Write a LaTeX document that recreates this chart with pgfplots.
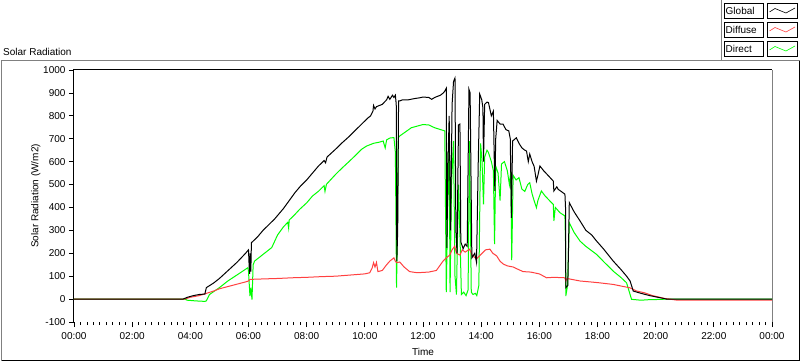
\documentclass[border=0pt]{standalone}
\usepackage{pgfplots}
\pgfplotsset{compat=1.18}
\usepackage{fontspec}
\setmainfont{Liberation Sans}
\definecolor{dred}{RGB}{255,64,64}
\definecolor{dgreen}{RGB}{0,255,0}
\definecolor{fgray}{RGB}{128,128,128}
\begin{document}
\begin{tikzpicture}[x=1pt,y=1pt,font=\fontsize{10}{12}\selectfont]
\useasboundingbox (0,0) rectangle (800,361);
% outer frame
\draw[fgray,line width=1pt] (1.5,0) -- (1.5,300) -- (800,300);
\draw[black,line width=1pt] (1.5,0.5) -- (799.5,0.5) -- (799.5,300);
\draw[fgray,line width=1pt] (721,300) -- (721,361);
% title
\node[anchor=base west,inner sep=0] at (3,305) {Solar Radiation};
% legend
\foreach \yy/\lab/\col in {350/Global/black,331/Diffuse/dred,312/Direct/dgreen}{
  \draw[black,line width=0.8pt] (724.5,\yy-7.5) rectangle (763,\yy+7.5);
  \node[anchor=west,inner sep=0] at (725.5,\yy) {\lab};
  \draw[black,line width=0.8pt] (767.5,\yy-7.5) rectangle (797,\yy+7.5);
  \draw[\col,line width=0.6pt] (769.5,\yy-1) -- (775,\yy+2.5) -- (781,\yy) -- (786,\yy-2) -- (795,\yy+3);
}
\begin{axis}[
  at={(74pt,39pt)}, anchor=south west,
  scale only axis, width=698pt, height=252pt,
  xmin=0, xmax=24, ymin=-100, ymax=1000,
  xtick={0,2,...,24},
  xticklabels={00:00,02:00,04:00,06:00,08:00,10:00,12:00,14:00,16:00,18:00,20:00,22:00,00:00},
  ytick={-100,0,...,1000},
  minor x tick num=8,
  tick align=outside,
  xtick pos=bottom, ytick pos=left,
  major tick length=5pt, minor tick length=3pt,
  tick style={black,line width=0.8pt},
  axis line style={draw=none},
  /pgf/number format/assume math mode=true,
  /pgf/number format/1000 sep={},
  tick label style={font=\fontsize{10}{12}\selectfont},
  xticklabel style={yshift=-2pt},
  xlabel={Time}, ylabel={Solar Radiation (W/m2)},
  xlabel style={font=\fontsize{10}{12}\selectfont, yshift=-2pt},
  ylabel style={font=\fontsize{10}{12}\selectfont, yshift=-4pt},
  clip=false,
]
\draw[black,line width=1pt] (rel axis cs:0,0) -- (rel axis cs:0,1) -- (rel axis cs:1,1);
\draw[fgray,line width=1pt] (rel axis cs:1,1) -- (rel axis cs:1,0);
% Direct
\addplot[dgreen,line width=1pt] coordinates {
(0,0) (3.8,0) (3.9,-5) (4.2,-8) (4.5,-10) (4.55,-8) (4.66,20) (5.0,50) (5.3,80) (5.6,105) (5.98,137) (6.0,120) (6.05,13) (6.08,50) (6.12,-2) (6.16,150) (6.21,166) (6.5,195) (6.8,225) (7.0,280) (7.2,315) (7.35,335) (7.38,310) (7.4,345) (7.6,370) (7.76,392) (8.0,420) (8.2,450) (8.4,470) (8.6,495) (8.63,470) (8.68,501) (9.0,545) (9.2,570) (9.48,603) (9.7,630) (9.9,655) (10.06,668) (10.3,680) (10.5,685) (10.63,690) (10.7,660) (10.75,695) (10.86,703) (11.0,705) (11.05,640) (11.09,50) (11.12,300) (11.15,705) (11.2,712) (11.4,730) (11.6,748) (11.8,755) (12.0,762) (12.2,760) (12.4,748) (12.6,740) (12.75,734)
(12.8,30) (12.85,400) (12.9,700) (12.93,30) (12.98,500) (13.05,690) (13.1,100) (13.15,20) (13.22,500) (13.27,283) (13.32,20) (13.4,30) (13.48,15) (13.55,40) (13.6,690) (13.66,30) (13.72,20) (13.8,25) (13.85,15) (13.92,60) (13.98,680) (14.03,600) (14.08,413) (14.12,620) (14.2,650) (14.25,640) (14.35,600) (14.42,560) (14.46,240) (14.5,580) (14.58,550) (14.65,430) (14.7,590) (14.8,600) (14.9,560) (14.97,500) (15.02,560) (15.05,170) (15.1,540) (15.2,520) (15.3,530) (15.4,480) (15.5,470) (15.6,500) (15.67,508) (15.75,460) (15.82,430) (15.9,399) (15.95,430) (16.07,472) (16.2,450) (16.35,430) (16.48,413) (16.5,341) (16.55,400) (16.71,377) (16.88,363) (16.9,250) (16.91,13) (16.97,60) (17.03,333) (17.2,290) (17.4,253) (17.6,230) (17.97,195) (18.2,165) (18.54,122) (18.8,95) (19.0,71) (19.17,-1) (19.5,-5) (19.7,-3) (20.0,-2) (20.4,0) (24,0)
};
% Diffuse
\addplot[dred,line width=1pt] coordinates {
(0,0) (3.8,0) (4.0,8) (4.3,15) (4.55,25) (4.8,35) (5.0,45) (5.3,55) (5.6,65) (5.9,75) (6.0,79) (6.05,86) (6.5,88) (7.0,90) (7.5,93) (8.0,95) (8.5,98) (9.0,100) (9.5,105) (10.0,110) (10.17,115) (10.25,135) (10.3,159) (10.35,140) (10.4,160) (10.45,120) (10.6,125) (10.75,150) (10.86,166) (11.0,180) (11.05,165) (11.1,159) (11.2,162) (11.35,140) (11.54,120) (11.8,115) (12.2,118) (12.46,125) (12.6,150) (12.69,166) (12.8,180) (12.92,192) (13.0,215) (13.09,231) (13.15,200) (13.27,192) (13.35,215) (13.45,205) (13.6,218) (13.7,190) (13.84,175) (13.95,190) (14.01,197) (14.15,215) (14.3,218) (14.4,200) (14.53,189) (14.65,165) (14.76,153) (14.9,145) (15.1,140) (15.3,128) (15.44,120) (15.7,118) (16.0,110) (16.25,93) (16.5,95) (16.88,93) (16.91,79) (16.95,90) (17.4,79) (18.0,72) (18.54,64) (19.12,49) (19.35,35) (19.6,28) (19.9,15) (20.3,3) (20.7,-4) (24,-4)
};
% Global
\addplot[black,line width=1pt] coordinates {
(0,0) (3.75,0) (3.9,8) (4.1,15) (4.3,20) (4.5,22) (4.55,50) (4.8,70) (5.0,90) (5.3,125) (5.6,160) (5.9,200) (6.0,215) (6.02,150) (6.04,110) (6.06,200) (6.08,120) (6.1,246) (6.3,270) (6.5,300) (6.7,325) (6.9,350) (7.0,365) (7.2,395) (7.4,430) (7.6,465) (7.8,495) (8.0,520) (8.2,550) (8.4,580) (8.6,605) (8.65,595) (8.7,620) (9.0,655) (9.2,680) (9.48,712) (9.7,740) (9.9,765) (10.1,790) (10.2,800) (10.28,821) (10.3,845) (10.35,830) (10.4,840) (10.6,850) (10.75,870) (10.8,885) (10.86,872) (10.95,890) (11.0,880) (11.05,890) (11.08,850) (11.1,166) (11.13,300) (11.16,865) (11.2,865) (11.3,870) (11.5,870) (11.7,875) (11.9,879) (12.0,882) (12.2,880) (12.3,872) (12.4,880) (12.6,890) (12.7,900) (12.75,908) (12.8,920)
(12.82,224) (12.86,600) (12.9,800) (12.95,300) (13.0,850) (13.05,950) (13.1,965) (13.13,300) (13.17,200) (13.22,760) (13.27,764) (13.3,250) (13.38,220) (13.45,240) (13.52,230) (13.58,916) (13.62,900) (13.68,180) (13.78,200) (13.84,160) (13.9,600) (13.95,895) (14.02,870) (14.06,835) (14.08,600) (14.12,850) (14.2,860) (14.25,858) (14.35,800) (14.42,820) (14.47,472) (14.5,700) (14.55,780) (14.65,764) (14.75,764) (14.85,740) (14.95,734) (15.0,700) (15.04,355) (15.08,690) (15.21,704) (15.3,680) (15.4,660) (15.5,650) (15.56,646) (15.62,600) (15.67,633) (15.75,600) (15.82,580) (15.9,515) (15.95,540) (16.02,581) (16.15,560) (16.3,540) (16.48,515) (16.5,472) (16.6,490) (16.65,479) (16.75,470) (16.88,458) (16.9,400) (16.91,50) (16.98,60) (17.03,421) (17.2,380) (17.4,341) (17.6,300) (17.8,280) (17.97,253) (18.2,220) (18.54,166) (18.8,130) (19.0,100) (19.12,79) (19.23,35) (19.5,25) (19.8,15) (20.15,6) (20.38,0) (24,0)
};
\end{axis}
\end{tikzpicture}
\end{document}
